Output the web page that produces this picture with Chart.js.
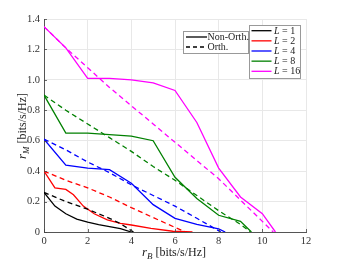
<!DOCTYPE html>
<html>
<head>
<meta charset="utf-8">
<script src="https://cdn.jsdelivr.net/npm/chart.js@4"></script>
<style>
  html, body { margin: 0; padding: 0; background: #fff; }
  #wrap { width: 339px; height: 261px; position: relative; }
</style>
</head>
<body>
<div id="wrap"><canvas id="chart"></canvas></div>
<script>
/* ─── DATA ──────────────────────────────────────────────── */
const xTicks = [0, 2, 4, 6, 8, 10, 12];
const yTicks = [0, 0.2, 0.4, 0.6, 0.8, 1, 1.2, 1.4];

const seriesNames  = ['1', '2', '4', '8', '16'];
const seriesColors = ['#000000', '#ff0000', '#0000ff', '#008000', '#ff00ff'];

// Non-orthogonal (solid)
const l1SolidX  = [0, 0.5, 1, 1.5, 2, 2.5, 3, 3.5, 4];
const l1SolidY  = [0.26, 0.17, 0.12, 0.085, 0.065, 0.048, 0.035, 0.022, 0];
const l2SolidX  = [0, 0.5, 1, 1.35, 1.8, 2.3, 2.9, 3.5, 4, 4.9, 5.9, 6.8];
const l2SolidY  = [0.4, 0.29, 0.28, 0.245, 0.17, 0.12, 0.08, 0.057, 0.046, 0.024, 0.005, 0];
const l4SolidX  = [0, 1, 2, 3, 4, 5, 6, 7, 8, 8.3];
const l4SolidY  = [0.61, 0.44, 0.42, 0.41, 0.32, 0.18, 0.09, 0.05, 0.02, 0];
const l8SolidX  = [0, 1, 2, 3, 4, 5, 6, 7, 8, 9, 9.5];
const l8SolidY  = [0.9, 0.65, 0.65, 0.64, 0.63, 0.6, 0.36, 0.22, 0.11, 0.07, 0];
const l16SolidX = [0, 1, 2, 3, 4, 5, 6, 7, 8, 9, 10, 10.6];
const l16SolidY = [1.35, 1.21, 1.01, 1.01, 1.0, 0.98, 0.93, 0.72, 0.42, 0.23, 0.12, 0];

// Orthogonal (dashed)
const l1DashX  = [0, 1, 2, 3, 3.5, 4.1];
const l1DashY  = [0.26, 0.2, 0.15, 0.09, 0.055, 0];
const l2DashX  = [0, 1, 2, 3, 4, 5, 6, 6.5];
const l2DashY  = [0.4, 0.34, 0.29, 0.23, 0.16, 0.095, 0.03, 0];
const l4DashX  = [0, 1, 2, 3, 4, 5, 6, 7, 8.1];
const l4DashY  = [0.61, 0.54, 0.46, 0.39, 0.31, 0.24, 0.17, 0.09, 0];
const l8DashX  = [0, 1, 2, 3, 4, 5, 6, 7, 8, 9, 9.45];
const l8DashY  = [0.9, 0.8, 0.71, 0.62, 0.53, 0.43, 0.34, 0.24, 0.14, 0.05, 0];
const l16DashX = [0, 1, 2, 3, 4, 5, 6, 7, 8, 9, 10, 10.5];
const l16DashY = [1.35, 1.21, 1.08, 0.95, 0.83, 0.71, 0.59, 0.47, 0.35, 0.21, 0.07, 0];

const solidX = [l1SolidX, l2SolidX, l4SolidX, l8SolidX, l16SolidX];
const solidY = [l1SolidY, l2SolidY, l4SolidY, l8SolidY, l16SolidY];
const dashX  = [l1DashX, l2DashX, l4DashX, l8DashX, l16DashX];
const dashY  = [l1DashY, l2DashY, l4DashY, l8DashY, l16DashY];

const styleNames = ['Non-Orth.', 'Orth.'];

/* ─── BUILD DATASETS ────────────────────────────────────── */
const DASH = [5, 3.5];
const pts = (xs, ys) => xs.map((x, i) => ({ x, y: ys[i] }));
const datasets = [];
seriesNames.forEach((n, i) => {
  datasets.push({
    label: 'L = ' + n + ' non-orth',
    data: pts(solidX[i], solidY[i]),
    borderColor: seriesColors[i], borderWidth: 1.3,
    showLine: true, pointRadius: 0, borderDash: []
  });
  datasets.push({
    label: 'L = ' + n + ' orth',
    data: pts(dashX[i], dashY[i]),
    borderColor: seriesColors[i], borderWidth: 1.3,
    showLine: true, pointRadius: 0, borderDash: DASH
  });
});

const SERIF = '"Liberation Serif", "DejaVu Serif", serif';

/* ─── CUSTOM DRAWING: labels, ticks, legends ────────────── */
const decor = {
  id: 'decor',
  afterDraw(chart) {
    const { ctx, chartArea: a, scales } = chart;
    ctx.save();

    // inward tick marks
    ctx.strokeStyle = '#444';
    ctx.lineWidth = 0.8;
    ctx.beginPath();
    xTicks.forEach(v => {
      const px = Math.round(scales.x.getPixelForValue(v)) + 0.5;
      ctx.moveTo(px, a.bottom); ctx.lineTo(px, a.bottom - 3);
    });
    yTicks.forEach(v => {
      const py = Math.round(scales.y.getPixelForValue(v)) + 0.5;
      ctx.moveTo(a.left, py); ctx.lineTo(a.left + 3, py);
    });
    ctx.stroke();

    // axis label helper: r_sub [bits/s/Hz]
    function axisLabel(sub) {
      ctx.font = 'italic 13px ' + SERIF;
      const w1 = ctx.measureText('r').width;
      ctx.font = 'italic 9px ' + SERIF;
      const w2 = ctx.measureText(sub).width;
      ctx.font = '12px ' + SERIF;
      const w3 = ctx.measureText(' [bits/s/Hz]').width;
      const total = w1 + w2 + w3;
      let x = -total / 2;
      ctx.fillStyle = '#222';
      ctx.textBaseline = 'alphabetic';
      ctx.textAlign = 'left';
      ctx.font = 'italic 13px ' + SERIF;
      ctx.fillText('r', x, 0); x += w1;
      ctx.font = 'italic 9px ' + SERIF;
      ctx.fillText(sub, x, 2.5); x += w2;
      ctx.font = '12px ' + SERIF;
      ctx.fillText(' [bits/s/Hz]', x, 0);
    }
    ctx.save();
    ctx.translate(174, 256);
    axisLabel('B');
    ctx.restore();
    ctx.save();
    ctx.translate(26, 126);
    ctx.rotate(-Math.PI / 2);
    axisLabel('M');
    ctx.restore();

    // legend boxes
    function box(x0, y0, x1, y1) {
      ctx.fillStyle = '#fff';
      ctx.fillRect(x0, y0, x1 - x0, y1 - y0);
      ctx.strokeStyle = '#999';
      ctx.lineWidth = 1;
      ctx.strokeRect(x0 + 0.5, y0 + 0.5, x1 - x0, y1 - y0);
    }
    ctx.textBaseline = 'middle';
    ctx.textAlign = 'left';

    // line style legend
    box(183, 31, 248, 53);
    styleNames.forEach((s, i) => {
      const y = 37 + i * 10;
      ctx.strokeStyle = '#000';
      ctx.lineWidth = 1.3;
      ctx.setLineDash(i === 0 ? [] : [4, 3]);
      ctx.beginPath(); ctx.moveTo(186, y); ctx.lineTo(207, y); ctx.stroke();
      ctx.setLineDash([]);
      ctx.fillStyle = '#222';
      ctx.font = '10px ' + SERIF;
      ctx.fillText(s, 207.5, y + 0.5);
    });

    // series legend
    box(249, 25, 300, 78);
    seriesNames.forEach((n, i) => {
      const y = 30.7 + i * 10.15;
      ctx.strokeStyle = seriesColors[i];
      ctx.lineWidth = 1.3;
      ctx.beginPath(); ctx.moveTo(251.5, y); ctx.lineTo(271.5, y); ctx.stroke();
      ctx.fillStyle = '#222';
      ctx.font = 'italic 10px ' + SERIF;
      ctx.fillText('L', 274, y + 0.5);
      const wl = ctx.measureText('L').width;
      ctx.font = '10px ' + SERIF;
      ctx.fillText(' = ' + n, 274 + wl, y + 0.5);
    });

    ctx.restore();
  }
};

/* ─── CHART ─────────────────────────────────────────────── */
new Chart(document.getElementById('chart'), {
  type: 'scatter',
  data: { datasets },
  options: {
    responsive: true,
    maintainAspectRatio: false,
    animation: false,
    layout: { padding: { left: 0, right: 33, top: 19, bottom: 0 } },
    plugins: { legend: { display: false }, tooltip: { enabled: false } },
    scales: {
      x: {
        type: 'linear', min: 0, max: 12,
        afterBuildTicks: s => { s.ticks = xTicks.map(v => ({ value: v })); },
        afterFit: s => { s.height = 29; },
        grid: { color: '#e8e8e8', lineWidth: 1, tickLength: 0 },
        border: { color: '#555', width: 1 },
        ticks: { color: '#333', font: { family: SERIF, size: 10.5 }, padding: 3, maxRotation: 0 }
      },
      y: {
        type: 'linear', min: 0, max: 1.4,
        afterBuildTicks: s => { s.ticks = yTicks.map(v => ({ value: v })); },
        afterFit: s => { s.width = 44; },
        grid: { color: '#e8e8e8', lineWidth: 1, tickLength: 0 },
        border: { color: '#555', width: 1 },
        ticks: { color: '#333', font: { family: SERIF, size: 10.5 }, padding: 4 }
      }
    }
  },
  plugins: [decor]
});
</script>
</body>
</html>
